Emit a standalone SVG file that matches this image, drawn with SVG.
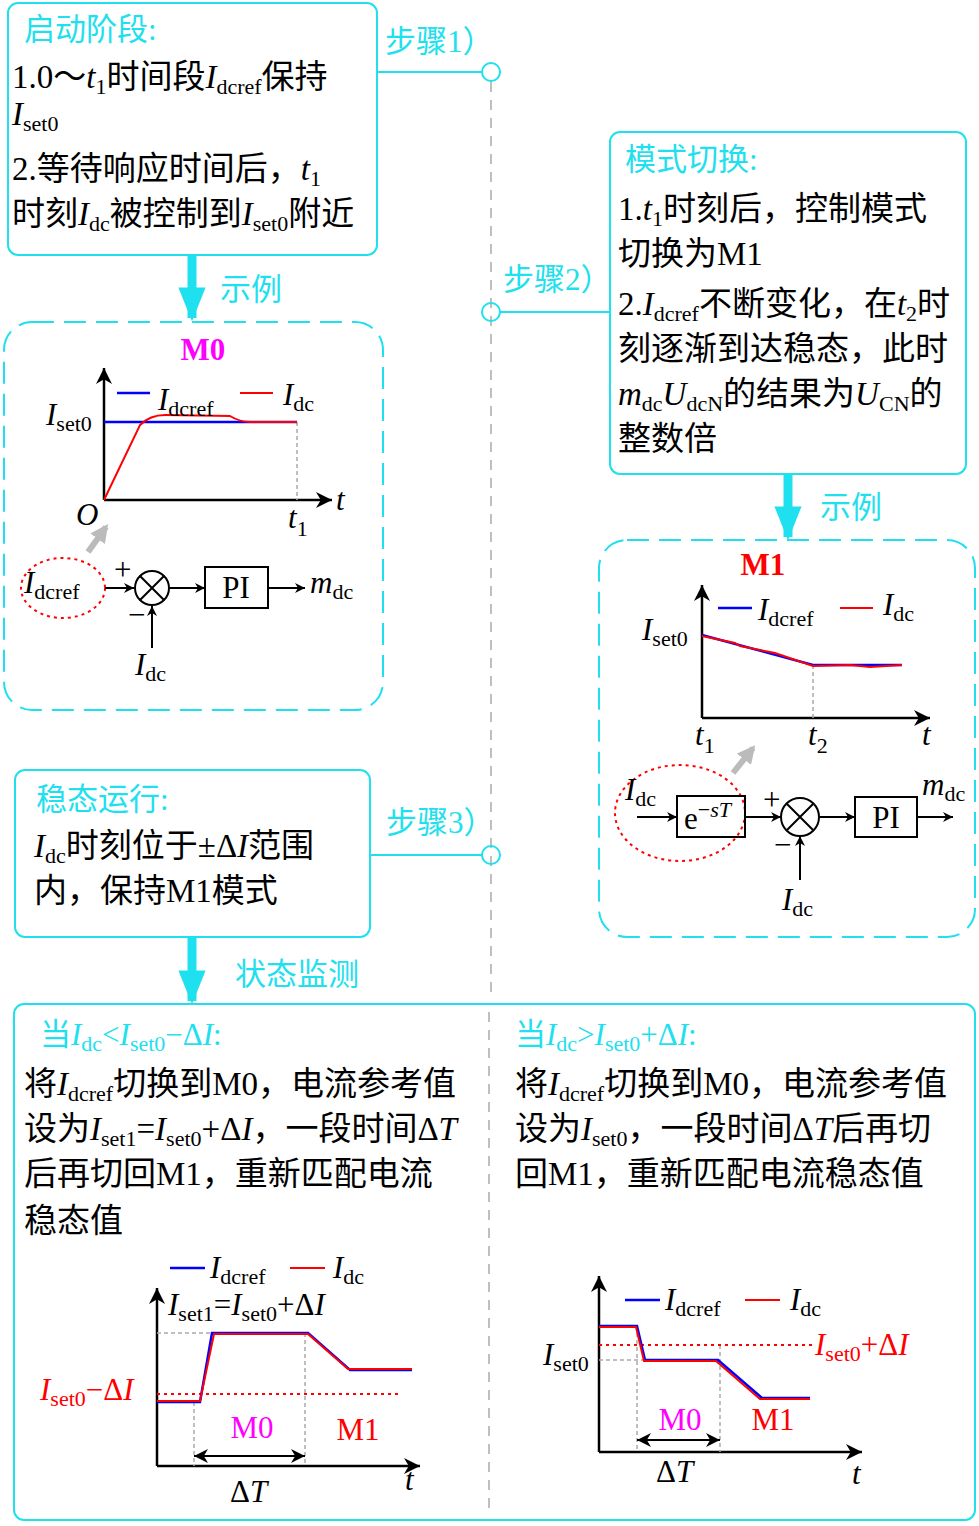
<svg xmlns="http://www.w3.org/2000/svg" width="979" height="1526" viewBox="0 0 979 1526">
<style>
text{font-family:"Liberation Serif","Noto Sans CJK SC",serif;font-size:31px;fill:#000}
.p{font-size:33px}
.t{fill:#1ee0ee;font-size:31px}
.i{font-style:italic}
.s{font-size:22px}
.box{fill:#fff;stroke:#1ee0ee;stroke-width:2}
.dbox{fill:none;stroke:#1ee0ee;stroke-width:2;stroke-dasharray:22 10}
.ax{stroke:#000;stroke-width:2.5;fill:none}
.bl{stroke:#0000ff;stroke-width:2.5;fill:none}
.rd{stroke:#ff0000;stroke-width:2;fill:none}
.gd{stroke:#aaa;stroke-width:1.5;stroke-dasharray:4 3;fill:none}
.rdot{stroke:#ff0000;stroke-width:2;stroke-dasharray:3 4;fill:none}
.cy{stroke:#1ee0ee;stroke-width:2;fill:none}
.ln{stroke:#000;stroke-width:2;fill:none}
.m{fill:#ff00ff}
.r{fill:#ff0000}
</style>
<defs>
<marker id="a" viewBox="0 0 10 10" refX="10" refY="5" markerWidth="10" markerHeight="10" markerUnits="userSpaceOnUse" orient="auto"><path d="M0,0 L10,5 L0,10 L3,5z" fill="#000"/></marker>
<marker id="ax" viewBox="0 0 10 10" refX="10" refY="5" markerWidth="16" markerHeight="16" markerUnits="userSpaceOnUse" orient="auto"><path d="M0,0 L10,5 L0,10 L3,5z" fill="#000"/></marker>
<marker id="d" viewBox="0 0 10 10" refX="10" refY="5" markerWidth="14" markerHeight="14" markerUnits="userSpaceOnUse" orient="auto-start-reverse"><path d="M0,0 L10,5 L0,10 L3,5z" fill="#000"/></marker>
<marker id="g" viewBox="0 0 10 10" refX="8" refY="5" markerWidth="18" markerHeight="18" markerUnits="userSpaceOnUse" orient="auto"><path d="M0,0 L10,5 L0,10z" fill="#bbb"/></marker>
<marker id="c" viewBox="0 0 10 10" refX="9" refY="5" markerWidth="34" markerHeight="34" markerUnits="userSpaceOnUse" orient="auto"><path d="M0,1 L10,5 L0,9z" fill="#1ee0ee"/></marker>
</defs>

<g id="connectors">
<line x1="491" y1="82" x2="491" y2="1000" stroke="#aaa" stroke-width="1.5" stroke-dasharray="10 8"/>
<line class="cy" x1="377" y1="72" x2="482" y2="72"/><circle class="cy" cx="491" cy="72" r="9" fill="#fff"/>
<line class="cy" x1="500" y1="312" x2="610" y2="312"/><circle class="cy" cx="491" cy="312" r="9" fill="#fff"/>
<line class="cy" x1="370" y1="855" x2="482" y2="855"/><circle class="cy" cx="491" cy="855" r="9" fill="#fff"/>
<line x1="192" y1="256" x2="192" y2="318" stroke="#1ee0ee" stroke-width="9" marker-end="url(#c)"/>
<line x1="788" y1="475" x2="788" y2="537" stroke="#1ee0ee" stroke-width="9" marker-end="url(#c)"/>
<line x1="192" y1="938" x2="192" y2="1001" stroke="#1ee0ee" stroke-width="9" marker-end="url(#c)"/>
<text class="t" x="385" y="52">步骤1）</text>
<text class="t" x="503" y="290">步骤2）</text>
<text class="t" x="386" y="833">步骤3）</text>
<text class="t" x="220" y="300">示例</text>
<text class="t" x="820" y="518">示例</text>
<text class="t" x="235" y="985">状态监测</text>
</g>

<g id="start">
<rect class="box" x="8" y="3" width="369" height="252" rx="10"/>
<text class="t" x="24" y="40">启动阶段:</text>
<text class="p" x="12" y="88">1.0～<tspan class="i">t</tspan><tspan class="s" dy="6">1</tspan><tspan dy="-6">时间段</tspan><tspan class="i">I</tspan><tspan class="s" dy="6">dcref</tspan><tspan dy="-6">保持</tspan></text>
<text class="p" x="12" y="125"><tspan class="i">I</tspan><tspan class="s" dy="6">set0</tspan></text>
<text class="p" x="12" y="180">2.等待响应时间后，<tspan class="i">t</tspan><tspan class="s" dy="6">1</tspan></text>
<text class="p" x="12" y="225">时刻<tspan class="i">I</tspan><tspan class="s" dy="6">dc</tspan><tspan dy="-6">被控制到</tspan><tspan class="i">I</tspan><tspan class="s" dy="6">set0</tspan><tspan dy="-6">附近</tspan></text>
</g>

<g id="m0">
<rect class="dbox" x="4" y="322" width="379" height="388" rx="28"/>
<text x="203" y="360" class="m" font-weight="bold" text-anchor="middle">M0</text>
<line class="ax" x1="104" y1="500" x2="104" y2="368" marker-end="url(#ax)"/>
<line class="ax" x1="104" y1="500" x2="332" y2="500" marker-end="url(#ax)"/>
<line class="gd" x1="297" y1="422" x2="297" y2="500"/>
<line class="bl" x1="104" y1="422" x2="297" y2="422"/>
<path class="rd" d="M104,500 L140,425 Q150,415 165,415 L230,416 Q240,422 250,422 L297,422"/>
<line class="bl" x1="117" y1="393" x2="150" y2="393"/>
<text x="158" y="410"><tspan class="i">I</tspan><tspan class="s" dy="6">dcref</tspan></text>
<line class="rd" x1="240" y1="393" x2="273" y2="393"/>
<text x="283" y="405"><tspan class="i">I</tspan><tspan class="s" dy="6">dc</tspan></text>
<text x="46" y="425"><tspan class="i">I</tspan><tspan class="s" dy="6">set0</tspan></text>
<text x="76" y="525" class="i">O</text>
<text x="288" y="528" class="i">t<tspan class="s" dy="8" font-style="normal">1</tspan></text>
<text x="336" y="510" class="i">t</text>
<line x1="88" y1="552" x2="106" y2="527" stroke="#bbb" stroke-width="6" marker-end="url(#g)"/>
<ellipse class="rdot" cx="63" cy="588" rx="42" ry="30"/>
<text x="24" y="593"><tspan class="i">I</tspan><tspan class="s" dy="6">dcref</tspan></text>
<line class="ln" x1="105" y1="588" x2="134" y2="588" marker-end="url(#a)"/>
<circle class="ln" cx="152" cy="588" r="17"/>
<path class="ln" d="M140,576 L164,600 M164,576 L140,600"/>
<text x="114" y="580" font-size="26">+</text>
<text x="128" y="625" font-size="26">−</text>
<line class="ln" x1="152" y1="648" x2="152" y2="606" marker-end="url(#a)"/>
<text x="135" y="675"><tspan class="i">I</tspan><tspan class="s" dy="6">dc</tspan></text>
<line class="ln" x1="170" y1="588" x2="205" y2="588" marker-end="url(#a)"/>
<rect class="ln" x="205" y="567" width="63" height="41"/>
<text x="236" y="598" text-anchor="middle">PI</text>
<line class="ln" x1="268" y1="588" x2="305" y2="588" marker-end="url(#a)"/>
<text x="310" y="593"><tspan class="i">m</tspan><tspan class="s" dy="6">dc</tspan></text>
</g>

<g id="switch">
<rect class="box" x="610" y="132" width="356" height="342" rx="10"/>
<text class="t" x="625" y="170">模式切换:</text>
<text class="p" x="618" y="220">1.<tspan class="i">t</tspan><tspan class="s" dy="6">1</tspan><tspan dy="-6">时刻后，控制模式</tspan></text>
<text class="p" x="618" y="265">切换为M1</text>
<text class="p" x="618" y="315">2.<tspan class="i">I</tspan><tspan class="s" dy="6">dcref</tspan><tspan dy="-6">不断变化，在</tspan><tspan class="i">t</tspan><tspan class="s" dy="6">2</tspan><tspan dy="-6">时</tspan></text>
<text class="p" x="618" y="360">刻逐渐到达稳态，此时</text>
<text class="p" x="618" y="405"><tspan class="i">m</tspan><tspan class="s" dy="6">dc</tspan><tspan class="i" dy="-6">U</tspan><tspan class="s" dy="6">dcN</tspan><tspan dy="-6">的结果为</tspan><tspan class="i">U</tspan><tspan class="s" dy="6">CN</tspan><tspan dy="-6">的</tspan></text>
<text class="p" x="618" y="450">整数倍</text>
</g>

<g id="m1">
<rect class="dbox" x="599" y="540" width="376" height="397" rx="28"/>
<text x="763" y="575" class="r" font-weight="bold" text-anchor="middle">M1</text>
<line class="ax" x1="702" y1="718" x2="702" y2="585" marker-end="url(#ax)"/>
<line class="ax" x1="702" y1="718" x2="930" y2="718" marker-end="url(#ax)"/>
<line class="gd" x1="813" y1="665" x2="813" y2="718"/>
<path class="bl" d="M702,635 L813,665 L902,665"/>
<path class="rd" d="M702,636 L735,643 L740,646 L775,653 L813,666 L850,665 L870,667 L902,665"/>
<line class="bl" x1="718" y1="608" x2="752" y2="608"/>
<text x="758" y="620"><tspan class="i">I</tspan><tspan class="s" dy="6">dcref</tspan></text>
<line class="rd" x1="840" y1="608" x2="873" y2="608"/>
<text x="883" y="615"><tspan class="i">I</tspan><tspan class="s" dy="6">dc</tspan></text>
<text x="642" y="640"><tspan class="i">I</tspan><tspan class="s" dy="6">set0</tspan></text>
<text x="695" y="745" class="i">t<tspan class="s" dy="8" font-style="normal">1</tspan></text>
<text x="808" y="745" class="i">t<tspan class="s" dy="8" font-style="normal">2</tspan></text>
<text x="922" y="745" class="i">t</text>
<line x1="733" y1="773" x2="753" y2="748" stroke="#bbb" stroke-width="6" marker-end="url(#g)"/>
<ellipse class="rdot" cx="680" cy="813" rx="65" ry="48"/>
<text x="625" y="800"><tspan class="i">I</tspan><tspan class="s" dy="6">dc</tspan></text>
<line class="ln" x1="637" y1="817" x2="677" y2="817" marker-end="url(#a)"/>
<rect class="ln" x="677" y="796" width="68" height="41"/>
<text x="684" y="829">e<tspan class="s" dy="-12">−</tspan><tspan class="s i">sT</tspan></text>
<line class="ln" x1="745" y1="817" x2="781" y2="817" marker-end="url(#a)"/>
<circle class="ln" cx="800" cy="817" r="19"/>
<path class="ln" d="M787,804 L813,830 M813,804 L787,830"/>
<text x="763" y="810" font-size="26">+</text>
<text x="774" y="855" font-size="26">−</text>
<line class="ln" x1="800" y1="880" x2="800" y2="836" marker-end="url(#a)"/>
<text x="782" y="910"><tspan class="i">I</tspan><tspan class="s" dy="6">dc</tspan></text>
<line class="ln" x1="819" y1="817" x2="855" y2="817" marker-end="url(#a)"/>
<rect class="ln" x="855" y="797" width="62" height="40"/>
<text x="886" y="828" text-anchor="middle">PI</text>
<line class="ln" x1="917" y1="817" x2="953" y2="817" marker-end="url(#a)"/>
<text x="922" y="795"><tspan class="i">m</tspan><tspan class="s" dy="6">dc</tspan></text>
</g>

<g id="steady">
<rect class="box" x="15" y="770" width="355" height="167" rx="10"/>
<text class="t" x="36" y="810">稳态运行:</text>
<text class="p" x="34" y="857"><tspan class="i">I</tspan><tspan class="s" dy="6">dc</tspan><tspan dy="-6">时刻位于±Δ</tspan><tspan class="i">I</tspan><tspan>范围</tspan></text>
<text class="p" x="34" y="902">内，保持M1模式</text>
</g>

<g id="monitor">
<rect class="box" x="14" y="1004" width="961" height="516" rx="10"/>
<line x1="489" y1="1012" x2="489" y2="1510" stroke="#aaa" stroke-width="1.5" stroke-dasharray="10 8"/>
<text class="t" x="40" y="1045">当<tspan class="i">I</tspan><tspan class="s" dy="6">dc</tspan><tspan dy="-6">&lt;</tspan><tspan class="i">I</tspan><tspan class="s" dy="6">set0</tspan><tspan dy="-6">−Δ</tspan><tspan class="i">I</tspan>:</text>
<text class="p" x="24" y="1095">将<tspan class="i">I</tspan><tspan class="s" dy="6">dcref</tspan><tspan dy="-6">切换到M0，电流参考值</tspan></text>
<text class="p" x="24" y="1140">设为<tspan class="i">I</tspan><tspan class="s" dy="6">set1</tspan><tspan dy="-6">=</tspan><tspan class="i">I</tspan><tspan class="s" dy="6">set0</tspan><tspan dy="-6">+Δ</tspan><tspan class="i">I</tspan><tspan>，一段时间Δ</tspan><tspan class="i">T</tspan></text>
<text class="p" x="24" y="1185">后再切回M1，重新匹配电流</text>
<text class="p" x="24" y="1232">稳态值</text>
<text class="t" x="515" y="1045">当<tspan class="i">I</tspan><tspan class="s" dy="6">dc</tspan><tspan dy="-6">&gt;</tspan><tspan class="i">I</tspan><tspan class="s" dy="6">set0</tspan><tspan dy="-6">+Δ</tspan><tspan class="i">I</tspan>:</text>
<text class="p" x="515" y="1095">将<tspan class="i">I</tspan><tspan class="s" dy="6">dcref</tspan><tspan dy="-6">切换到M0，电流参考值</tspan></text>
<text class="p" x="515" y="1140">设为<tspan class="i">I</tspan><tspan class="s" dy="6">set0</tspan><tspan dy="-6">，一段时间Δ</tspan><tspan class="i">T</tspan><tspan>后再切</tspan></text>
<text class="p" x="515" y="1185">回M1，重新匹配电流稳态值</text>
</g>

<g id="chart-left">
<line class="ax" x1="157" y1="1466" x2="157" y2="1288" marker-end="url(#ax)"/>
<line class="ax" x1="157" y1="1466" x2="420" y2="1466" marker-end="url(#ax)"/>
<line class="gd" x1="157" y1="1333" x2="215" y2="1333"/>
<line class="gd" x1="194" y1="1402" x2="194" y2="1466"/>
<line class="gd" x1="305" y1="1333" x2="305" y2="1466"/>
<line class="rdot" x1="157" y1="1394" x2="400" y2="1394"/>
<path class="bl" d="M157,1402 L200,1402 L212,1333 L308,1333 L350,1370 L412,1370"/>
<path class="rd" d="M157,1401 L200,1401 L214,1334 L308,1334 L348,1369 L412,1369"/>
<line class="ln" x1="194" y1="1456" x2="305" y2="1456" marker-start="url(#d)" marker-end="url(#d)"/>
<text x="252" y="1438" class="m" text-anchor="middle">M0</text>
<text x="358" y="1440" class="r" text-anchor="middle">M1</text>
<text x="230" y="1502">Δ<tspan class="i">T</tspan></text>
<text x="405" y="1490" class="i">t</text>
<text x="168" y="1315"><tspan class="i">I</tspan><tspan class="s" dy="6">set1</tspan><tspan dy="-6">=</tspan><tspan class="i">I</tspan><tspan class="s" dy="6">set0</tspan><tspan dy="-6">+Δ</tspan><tspan class="i">I</tspan></text>
<line class="bl" x1="170" y1="1268" x2="205" y2="1268"/>
<text x="210" y="1278"><tspan class="i">I</tspan><tspan class="s" dy="6">dcref</tspan></text>
<line class="rd" x1="290" y1="1268" x2="325" y2="1268"/>
<text x="333" y="1278"><tspan class="i">I</tspan><tspan class="s" dy="6">dc</tspan></text>
<text x="40" y="1400" class="r"><tspan class="i">I</tspan><tspan class="s" dy="6">set0</tspan><tspan dy="-6">−Δ</tspan><tspan class="i">I</tspan></text>
</g>

<g id="chart-right">
<line class="ax" x1="599" y1="1452" x2="599" y2="1276" marker-end="url(#ax)"/>
<line class="ax" x1="599" y1="1452" x2="862" y2="1452" marker-end="url(#ax)"/>
<line class="gd" x1="599" y1="1360" x2="645" y2="1360"/>
<line class="gd" x1="637" y1="1326" x2="637" y2="1452"/>
<line class="gd" x1="720" y1="1345" x2="720" y2="1452"/>
<line class="rdot" x1="599" y1="1345" x2="815" y2="1345"/>
<path class="bl" d="M599,1326 L637,1326 L645,1360 L718,1360 L762,1398 L810,1398"/>
<path class="rd" d="M599,1327 L636,1327 L644,1361 L716,1361 L760,1399 L810,1399"/>
<line class="ln" x1="637" y1="1440" x2="720" y2="1440" marker-start="url(#d)" marker-end="url(#d)"/>
<text x="680" y="1430" class="m" text-anchor="middle">M0</text>
<text x="773" y="1430" class="r" text-anchor="middle">M1</text>
<text x="656" y="1482">Δ<tspan class="i">T</tspan></text>
<text x="852" y="1484" class="i">t</text>
<text x="543" y="1365"><tspan class="i">I</tspan><tspan class="s" dy="6">set0</tspan></text>
<text x="815" y="1355" class="r"><tspan class="i">I</tspan><tspan class="s" dy="6">set0</tspan><tspan dy="-6">+Δ</tspan><tspan class="i">I</tspan></text>
<line class="bl" x1="625" y1="1300" x2="660" y2="1300"/>
<text x="665" y="1310"><tspan class="i">I</tspan><tspan class="s" dy="6">dcref</tspan></text>
<line class="rd" x1="745" y1="1300" x2="780" y2="1300"/>
<text x="790" y="1310"><tspan class="i">I</tspan><tspan class="s" dy="6">dc</tspan></text>
</g>
</svg>
